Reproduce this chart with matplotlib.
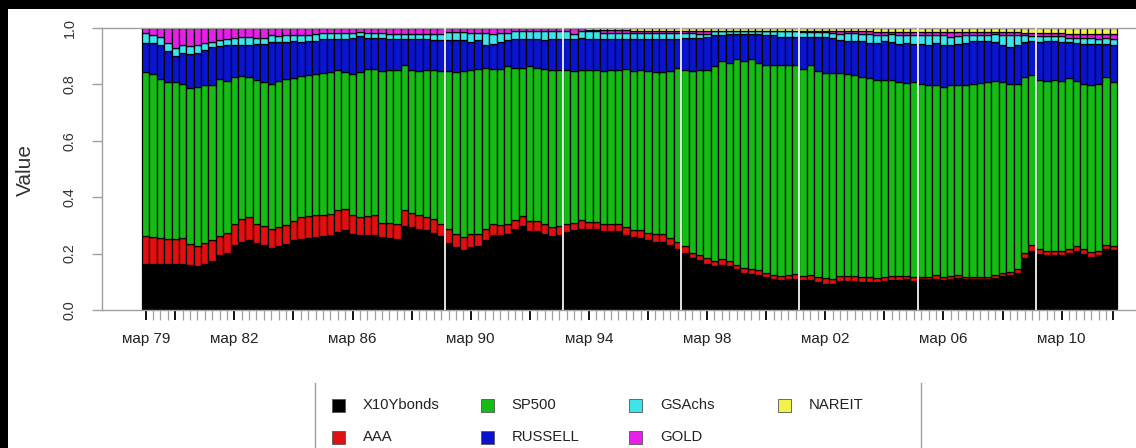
import numpy as np
import matplotlib
matplotlib.use("Agg")
import matplotlib.pyplot as plt
from matplotlib.lines import Line2D
from matplotlib.patches import Rectangle

plt.rcParams['font.family'] = ['Liberation Sans', 'DejaVu Sans']

# portfolio weights, quarterly Mar 1979 .. Dec 2011 (132 bars)
# stored as the cumulative level reached after each asset (stack order bottom -> top)
series = ['X10Ybonds', 'AAA', 'SP500', 'RUSSELL', 'GSAchs', 'GOLD', 'NAREIT']
colors = ['#000000', '#e01010', '#16bc16', '#0a14d0', '#3ee4ec', '#e620e6', '#f4f24a']

bonds_top = [
    0.164, 0.164, 0.164, 0.164, 0.164, 0.164, 0.158, 0.156, 0.164, 0.173, 0.194, 0.203,
    0.232, 0.241, 0.247, 0.239, 0.229, 0.220, 0.227, 0.235, 0.247, 0.253, 0.255, 0.258,
    0.262, 0.267, 0.277, 0.283, 0.270, 0.265, 0.267, 0.265, 0.259, 0.255, 0.253, 0.298,
    0.294, 0.288, 0.283, 0.274, 0.262, 0.239, 0.223, 0.212, 0.223, 0.227, 0.247, 0.265,
    0.265, 0.271, 0.286, 0.298, 0.279, 0.279, 0.271, 0.262, 0.267, 0.277, 0.283, 0.288,
    0.286, 0.288, 0.279, 0.279, 0.279, 0.267, 0.259, 0.255, 0.247, 0.241, 0.241, 0.229,
    0.217, 0.203, 0.184, 0.176, 0.164, 0.156, 0.161, 0.156, 0.144, 0.132, 0.129, 0.123,
    0.117, 0.111, 0.105, 0.109, 0.111, 0.105, 0.105, 0.099, 0.093, 0.093, 0.102, 0.102,
    0.102, 0.099, 0.099, 0.099, 0.102, 0.105, 0.105, 0.109, 0.102, 0.109, 0.109, 0.111,
    0.105, 0.109, 0.113, 0.109, 0.109, 0.109, 0.109, 0.113, 0.121, 0.123, 0.132, 0.184,
    0.208, 0.200, 0.194, 0.194, 0.194, 0.203, 0.208, 0.200, 0.188, 0.194, 0.215, 0.212,
]
aaa_top = [
    0.262, 0.259, 0.255, 0.253, 0.253, 0.255, 0.235, 0.227, 0.239, 0.247, 0.262, 0.274,
    0.306, 0.322, 0.330, 0.306, 0.298, 0.286, 0.294, 0.303, 0.314, 0.330, 0.333, 0.336,
    0.336, 0.342, 0.353, 0.357, 0.338, 0.330, 0.333, 0.336, 0.310, 0.309, 0.306, 0.353,
    0.345, 0.336, 0.330, 0.324, 0.306, 0.288, 0.271, 0.259, 0.271, 0.271, 0.288, 0.306,
    0.300, 0.306, 0.318, 0.333, 0.314, 0.314, 0.306, 0.294, 0.298, 0.306, 0.310, 0.318,
    0.312, 0.312, 0.306, 0.306, 0.306, 0.294, 0.283, 0.283, 0.274, 0.268, 0.268, 0.255,
    0.241, 0.227, 0.203, 0.196, 0.184, 0.173, 0.180, 0.173, 0.158, 0.149, 0.144, 0.141,
    0.132, 0.125, 0.121, 0.123, 0.126, 0.121, 0.123, 0.117, 0.113, 0.111, 0.121, 0.121,
    0.121, 0.117, 0.117, 0.113, 0.117, 0.121, 0.121, 0.121, 0.117, 0.117, 0.117, 0.123,
    0.117, 0.121, 0.123, 0.117, 0.117, 0.117, 0.117, 0.125, 0.132, 0.135, 0.144, 0.203,
    0.229, 0.215, 0.208, 0.208, 0.208, 0.217, 0.227, 0.215, 0.206, 0.208, 0.232, 0.227,
]
sp500_top = [
    0.844, 0.838, 0.820, 0.809, 0.809, 0.803, 0.787, 0.790, 0.797, 0.799, 0.818, 0.813,
    0.826, 0.829, 0.826, 0.814, 0.809, 0.802, 0.811, 0.820, 0.823, 0.829, 0.832, 0.838,
    0.840, 0.844, 0.850, 0.844, 0.838, 0.844, 0.856, 0.856, 0.846, 0.850, 0.850, 0.870,
    0.850, 0.846, 0.850, 0.850, 0.846, 0.846, 0.844, 0.846, 0.850, 0.856, 0.858, 0.856,
    0.856, 0.864, 0.858, 0.858, 0.864, 0.858, 0.853, 0.850, 0.850, 0.850, 0.846, 0.850,
    0.850, 0.850, 0.846, 0.850, 0.850, 0.856, 0.846, 0.850, 0.846, 0.844, 0.844, 0.846,
    0.858, 0.850, 0.846, 0.850, 0.852, 0.865, 0.882, 0.877, 0.889, 0.882, 0.889, 0.877,
    0.870, 0.870, 0.870, 0.868, 0.868, 0.856, 0.868, 0.846, 0.842, 0.842, 0.842, 0.838,
    0.832, 0.826, 0.823, 0.814, 0.814, 0.814, 0.809, 0.805, 0.809, 0.803, 0.799, 0.799,
    0.791, 0.797, 0.799, 0.799, 0.803, 0.806, 0.809, 0.811, 0.809, 0.803, 0.803, 0.826,
    0.835, 0.814, 0.813, 0.814, 0.811, 0.823, 0.813, 0.803, 0.799, 0.803, 0.826, 0.809,
]
russell_top = [
    0.948, 0.948, 0.940, 0.920, 0.901, 0.910, 0.908, 0.913, 0.922, 0.931, 0.936, 0.938,
    0.940, 0.940, 0.940, 0.943, 0.943, 0.951, 0.950, 0.951, 0.953, 0.951, 0.953, 0.955,
    0.960, 0.960, 0.960, 0.960, 0.963, 0.972, 0.963, 0.963, 0.963, 0.960, 0.960, 0.960,
    0.960, 0.960, 0.960, 0.956, 0.956, 0.956, 0.956, 0.956, 0.950, 0.956, 0.939, 0.944,
    0.950, 0.956, 0.960, 0.962, 0.960, 0.960, 0.956, 0.962, 0.962, 0.962, 0.962, 0.965,
    0.962, 0.962, 0.962, 0.962, 0.962, 0.962, 0.962, 0.962, 0.962, 0.962, 0.962, 0.962,
    0.962, 0.965, 0.965, 0.965, 0.968, 0.974, 0.976, 0.980, 0.980, 0.980, 0.980, 0.980,
    0.976, 0.974, 0.968, 0.968, 0.968, 0.968, 0.968, 0.968, 0.968, 0.965, 0.956, 0.953,
    0.953, 0.953, 0.948, 0.948, 0.953, 0.950, 0.944, 0.948, 0.944, 0.944, 0.939, 0.948,
    0.941, 0.939, 0.944, 0.948, 0.953, 0.953, 0.953, 0.950, 0.939, 0.933, 0.939, 0.950,
    0.953, 0.950, 0.953, 0.953, 0.950, 0.950, 0.948, 0.944, 0.944, 0.944, 0.944, 0.941,
]
gsachs_top = [
    0.981, 0.975, 0.967, 0.948, 0.928, 0.940, 0.936, 0.940, 0.948, 0.951, 0.957, 0.961,
    0.963, 0.967, 0.967, 0.963, 0.963, 0.975, 0.972, 0.975, 0.975, 0.975, 0.976, 0.979,
    0.981, 0.983, 0.983, 0.983, 0.983, 0.987, 0.983, 0.983, 0.983, 0.980, 0.980, 0.980,
    0.980, 0.980, 0.980, 0.980, 0.980, 0.986, 0.986, 0.986, 0.983, 0.983, 0.983, 0.980,
    0.983, 0.983, 0.988, 0.988, 0.988, 0.988, 0.988, 0.988, 0.988, 0.988, 0.980, 0.988,
    0.988, 0.988, 0.983, 0.983, 0.983, 0.983, 0.983, 0.983, 0.983, 0.983, 0.983, 0.983,
    0.983, 0.983, 0.983, 0.980, 0.980, 0.988, 0.988, 0.988, 0.988, 0.988, 0.988, 0.988,
    0.988, 0.988, 0.988, 0.988, 0.988, 0.986, 0.986, 0.986, 0.986, 0.983, 0.980, 0.983,
    0.983, 0.980, 0.980, 0.976, 0.976, 0.980, 0.974, 0.974, 0.974, 0.974, 0.974, 0.976,
    0.974, 0.968, 0.972, 0.974, 0.974, 0.976, 0.976, 0.980, 0.974, 0.974, 0.974, 0.974,
    0.972, 0.972, 0.972, 0.972, 0.972, 0.965, 0.965, 0.965, 0.965, 0.962, 0.965, 0.962,
]
gold_top = [
    1.000, 1.000, 1.000, 1.000, 1.000, 1.000, 1.000, 1.000, 1.000, 1.000, 1.000, 1.000,
    1.000, 1.000, 1.000, 1.000, 1.000, 1.000, 1.000, 1.000, 1.000, 1.000, 1.000, 1.000,
    1.000, 1.000, 1.000, 1.000, 1.000, 1.000, 1.000, 1.000, 1.000, 1.000, 1.000, 1.000,
    1.000, 1.000, 1.000, 1.000, 1.000, 1.000, 1.000, 1.000, 1.000, 1.000, 1.000, 1.000,
    1.000, 1.000, 1.000, 1.000, 1.000, 1.000, 1.000, 1.000, 1.000, 1.000, 1.000, 1.000,
    0.993, 0.993, 0.993, 0.993, 0.993, 0.993, 0.990, 0.990, 0.990, 0.990, 0.990, 0.990,
    0.990, 0.990, 0.990, 0.990, 0.990, 0.990, 0.990, 0.990, 0.990, 0.990, 0.990, 0.990,
    0.990, 0.990, 0.990, 0.990, 0.990, 0.990, 0.990, 0.990, 0.990, 0.990, 0.990, 0.990,
    0.990, 0.990, 0.990, 0.986, 0.986, 0.986, 0.986, 0.986, 0.986, 0.986, 0.986, 0.986,
    0.986, 0.986, 0.986, 0.986, 0.986, 0.986, 0.986, 0.986, 0.986, 0.986, 0.986, 0.983,
    0.983, 0.983, 0.983, 0.983, 0.983, 0.980, 0.980, 0.980, 0.980, 0.980, 0.980, 0.980,
]

tick_labels = ['мар 79', 'мар 82', 'мар 86', 'мар 90', 'мар 94',
               'мар 98', 'мар 02', 'мар 06', 'мар 10']
label_bars = [0, 12, 28, 44, 60, 76, 92, 108, 124]
major_bars = [0, 4, 12, 20, 28, 36, 44, 52, 60, 68, 76, 84, 92, 100, 108, 116, 124, 131]
gap_after = [40, 56, 72, 88, 104, 120]   # white seams in the original render

n = len(bonds_top)
x = np.arange(n)
levels = np.vstack([np.zeros(n), bonds_top, aaa_top, sp500_top, russell_top,
                    gsachs_top, gold_top, np.ones(n)])
shares = np.diff(levels, axis=0)

W, H = 1136, 448
fig = plt.figure(figsize=(W / 100, H / 100), dpi=100)


def fx(px):
    return px / W


def fy(py):
    return 1 - py / H


ax = fig.add_axes([fx(102), fy(310), fx(1140) - fx(102), fy(28) - fy(310)])

for k, name in enumerate(series):
    ax.bar(x, shares[k], bottom=levels[k], width=1.0, color=colors[k],
           edgecolor='black', linewidth=0.9, label=name)

for b in gap_after:
    ax.axvline(b + 0.5, color='#f4f4f4', lw=1.3, zorder=5)

bar_px = 7.386
ax.set_xlim(-0.5 - 40 / bar_px, n - 0.5 + 23 / bar_px)
ax.set_ylim(0, 1)

for s in ax.spines.values():
    s.set_color('#a0a0a0')
    s.set_linewidth(1.0)

ax.set_yticks([0, 0.2, 0.4, 0.6, 0.8, 1.0])
ax.set_yticklabels(['0.0', '0.2', '0.4', '0.6', '0.8', '1.0'],
                   rotation=90, va='center', fontsize=10.4, color='#333333')
ax.tick_params(axis='y', length=7, width=1, color='#a0a0a0', pad=11)

major_labels = []
for b in major_bars:
    major_labels.append(tick_labels[label_bars.index(b)] if b in label_bars else '')
ax.set_xticks(major_bars)
ax.set_xticklabels(major_labels, fontsize=11, color='#222222')
ax.set_xticks(x, minor=True)
ax.tick_params(axis='x', which='major', length=7, width=1.4, color='#111111', pad=8.5)
ax.tick_params(axis='x', which='minor', length=7, width=0.9, color='#a0a0a0')

fig.text(fx(25), fy(170), 'Value', rotation=90, ha='center', va='center',
         fontsize=15, color='#333333')

# legend, R style: equal-width columns, only side borders visible
for k, name in enumerate(series):
    col, row = divmod(k, 2)
    cx = 332 + col * 148.7
    cy = 405 + row * 32
    fig.add_artist(Rectangle((fx(cx), fy(cy + 6.5)), 13 / W, 13 / H,
                             transform=fig.transFigure, facecolor=colors[k],
                             edgecolor='#555555', linewidth=0.6))
    fig.text(fx(cx + 31), fy(cy), name, ha='left', va='center',
             fontsize=10.7, color='#222222')
for lx in (315, 921):
    fig.add_artist(Line2D([fx(lx), fx(lx)], [fy(383), fy(450)],
                          transform=fig.transFigure, color='#a0a0a0', lw=1.0))

# black strips along the top and left of the screenshot
fig.add_artist(Rectangle((0, fy(9)), 1, 9 / H, transform=fig.transFigure,
                         facecolor='black', edgecolor='none'))
fig.add_artist(Rectangle((0, 0), fx(8), 1, transform=fig.transFigure,
                         facecolor='black', edgecolor='none'))

fig.savefig('out.png', dpi=100, facecolor='white')
